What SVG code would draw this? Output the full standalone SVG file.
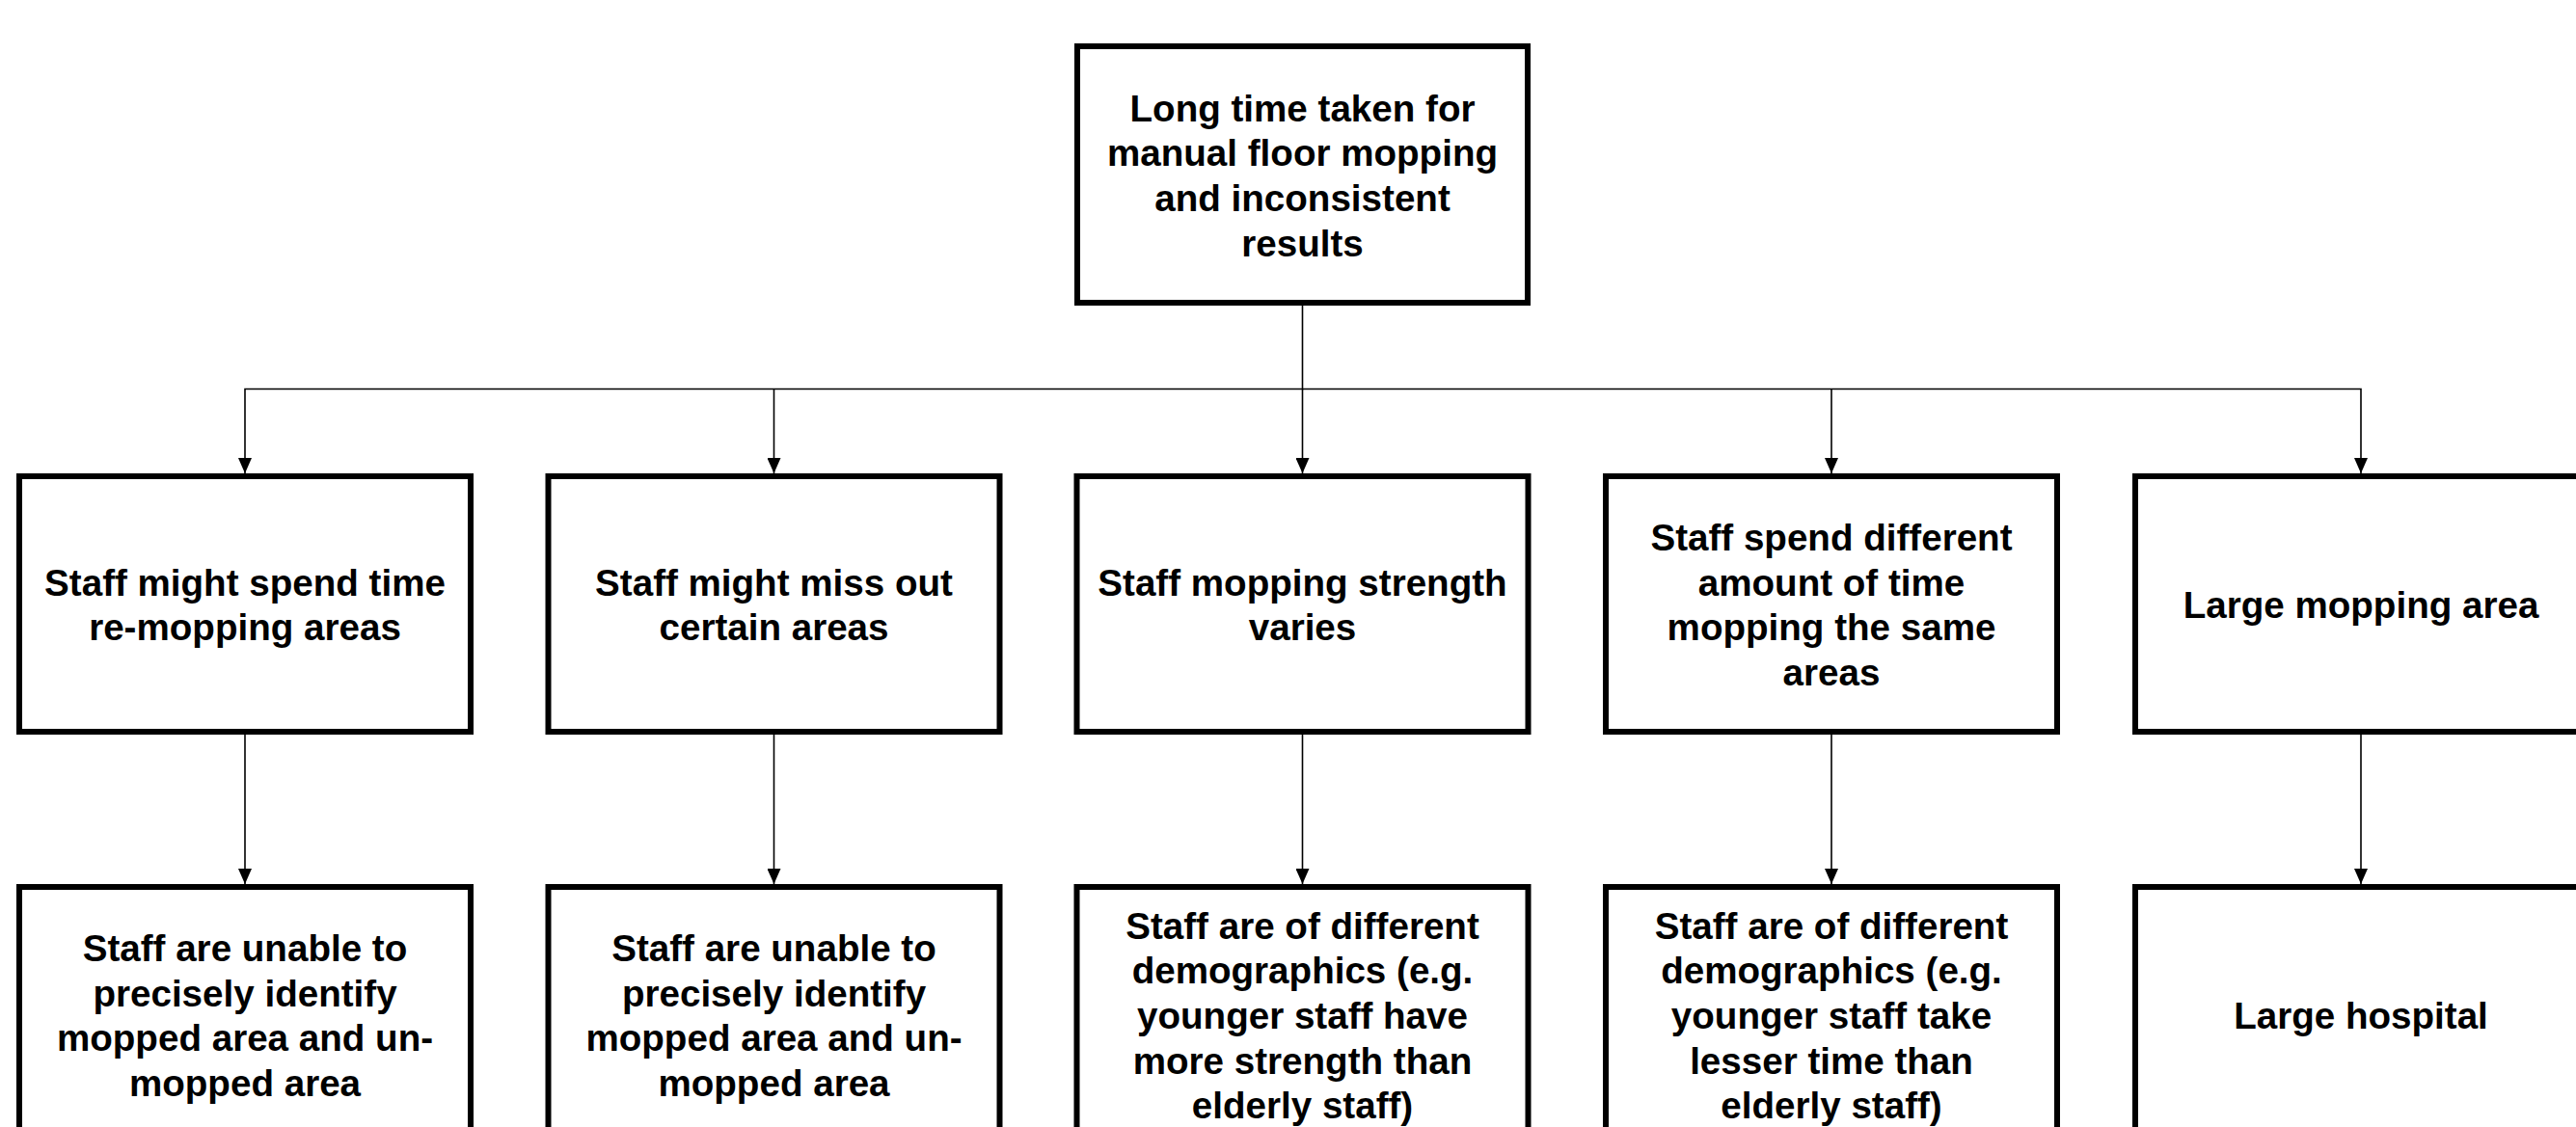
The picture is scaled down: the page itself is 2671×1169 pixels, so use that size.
<svg xmlns="http://www.w3.org/2000/svg" width="2671" height="1169" viewBox="0 0 2671 1169">
<style>
.box{fill:#fff;stroke:#000;stroke-width:6}
.t{font-family:"Liberation Sans",Arial,sans-serif;font-weight:bold;font-size:38.6px;fill:#000;text-anchor:middle}
.c{fill:none;stroke:#000;stroke-width:1.6}
</style>
<defs>
<marker id="ah" markerUnits="userSpaceOnUse" markerWidth="16" markerHeight="14" refX="16" refY="7" orient="auto" viewBox="0 0 16 14">
<path d="M0,0 L16,7 L0,14 Z" fill="#000"/>
</marker>
</defs>
<rect width="2671" height="1169" fill="#fff"/>
<g id="connectors">
<path class="c" d="M1350.5,317 V403.5 H254 V491" marker-end="url(#ah)"/>
<path class="c" d="M802.5,403.5 V491" marker-end="url(#ah)"/>
<path class="c" d="M1350.5,403.5 V491" marker-end="url(#ah)"/>
<path class="c" d="M1350.5,403.5 H2448 V491" marker-end="url(#ah)"/>
<path class="c" d="M1899,403.5 V491" marker-end="url(#ah)"/>
<path class="c" d="M254,762 V917" marker-end="url(#ah)"/>
<path class="c" d="M802.5,762 V917" marker-end="url(#ah)"/>
<path class="c" d="M1350.5,762 V917" marker-end="url(#ah)"/>
<path class="c" d="M1899,762 V917" marker-end="url(#ah)"/>
<path class="c" d="M2448,762 V917" marker-end="url(#ah)"/>
</g>
<g id="root">
<rect class="box" x="1117" y="48" width="467" height="266"/>
<text class="t" x="1350.5"><tspan x="1350.5" y="125.5">Long time taken for</tspan><tspan x="1350.5" y="172.2">manual floor mopping</tspan><tspan x="1350.5" y="218.9">and inconsistent</tspan><tspan x="1350.5" y="265.6">results</tspan></text>
</g>
<g id="n1">
<rect class="box" x="20" y="494" width="468" height="265"/>
<text class="t"><tspan x="254" y="617.7">Staff might spend time</tspan><tspan x="254" y="664.4">re-mopping areas</tspan></text>
</g>
<g id="n2">
<rect class="box" x="568.5" y="494" width="468" height="265"/>
<text class="t"><tspan x="802.5" y="617.7">Staff might miss out</tspan><tspan x="802.5" y="664.4">certain areas</tspan></text>
</g>
<g id="n3">
<rect class="box" x="1116.5" y="494" width="468" height="265"/>
<text class="t"><tspan x="1350.5" y="617.7">Staff mopping strength</tspan><tspan x="1350.5" y="664.4">varies</tspan></text>
</g>
<g id="n4">
<rect class="box" x="1665" y="494" width="468" height="265"/>
<text class="t"><tspan x="1899" y="571">Staff spend different</tspan><tspan x="1899" y="617.7">amount of time</tspan><tspan x="1899" y="664.4">mopping the same</tspan><tspan x="1899" y="711.1">areas</tspan></text>
</g>
<g id="n5">
<rect class="box" x="2214" y="494" width="468" height="265"/>
<text class="t"><tspan x="2448" y="641.2">Large mopping area</tspan></text>
</g>
<g id="m1">
<rect class="box" x="20" y="920" width="468" height="265"/>
<text class="t"><tspan x="254" y="996.8">Staff are unable to</tspan><tspan x="254" y="1043.5">precisely identify</tspan><tspan x="254" y="1090.2">mopped area and un-</tspan><tspan x="254" y="1136.9">mopped area</tspan></text>
</g>
<g id="m2">
<rect class="box" x="568.5" y="920" width="468" height="265"/>
<text class="t"><tspan x="802.5" y="996.8">Staff are unable to</tspan><tspan x="802.5" y="1043.5">precisely identify</tspan><tspan x="802.5" y="1090.2">mopped area and un-</tspan><tspan x="802.5" y="1136.9">mopped area</tspan></text>
</g>
<g id="m3">
<rect class="box" x="1116.5" y="920" width="468" height="265"/>
<text class="t"><tspan x="1350.5" y="973.5">Staff are of different</tspan><tspan x="1350.5" y="1020.2">demographics (e.g.</tspan><tspan x="1350.5" y="1066.9">younger staff have</tspan><tspan x="1350.5" y="1113.6">more strength than</tspan><tspan x="1350.5" y="1160.3">elderly staff)</tspan></text>
</g>
<g id="m4">
<rect class="box" x="1665" y="920" width="468" height="265"/>
<text class="t"><tspan x="1899" y="973.5">Staff are of different</tspan><tspan x="1899" y="1020.2">demographics (e.g.</tspan><tspan x="1899" y="1066.9">younger staff take</tspan><tspan x="1899" y="1113.6">lesser time than</tspan><tspan x="1899" y="1160.3">elderly staff)</tspan></text>
</g>
<g id="m5">
<rect class="box" x="2214" y="920" width="468" height="265"/>
<text class="t"><tspan x="2448" y="1066.7">Large hospital</tspan></text>
</g>
</svg>
